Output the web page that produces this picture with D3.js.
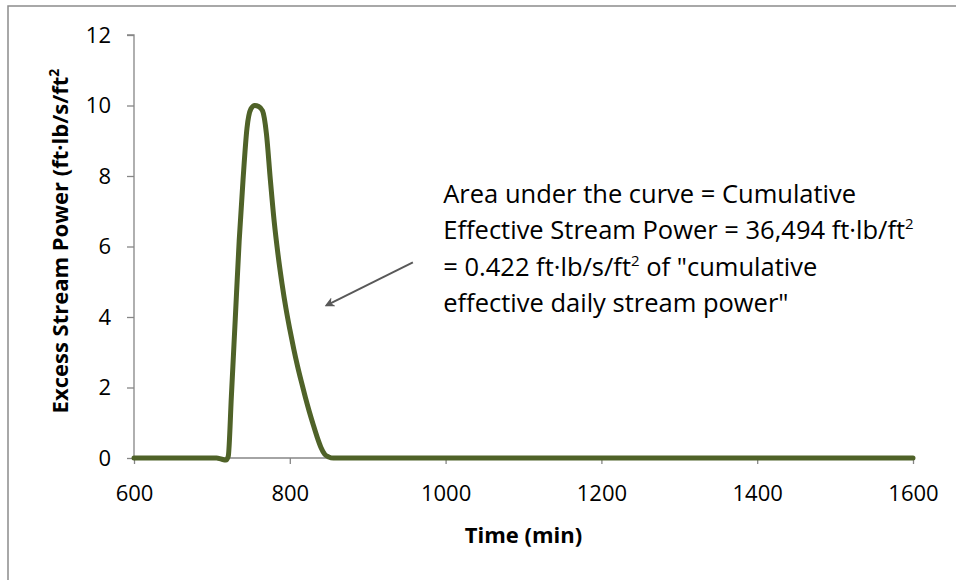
<!DOCTYPE html>
<html>
<head>
<meta charset="utf-8">
<script src="https://cdn.jsdelivr.net/npm/d3@7"></script>
<style>
  body { margin: 0; background: #fff; }
  svg { display: block; font-family: "Open Sans", "Noto Sans", sans-serif; }
</style>
</head>
<body>
<div id="chart"></div>
<script>
var width = 956;
var height = 580;

// data (time in min, excess stream power)
var times  = [600, 700, 706, 712, 718, 721, 725, 730, 735, 740, 745, 750, 755, 760, 765,
              770, 775, 780, 785, 790, 795, 800, 805, 810, 815, 820, 825, 830, 835, 840,
              845, 850, 856, 1600];
var power  = [0, 0, 0, -0.03, -0.06, 0.05, 1.75, 3.95, 6.15, 7.9, 9.35, 9.9, 10.0, 9.97, 9.85,
              9.2, 7.9, 6.7, 5.75, 4.95, 4.25, 3.65, 3.1, 2.6, 2.15, 1.72, 1.32, 0.95, 0.6, 0.3,
              0.1, 0.03, 0, 0];
var xTicks = [600, 800, 1000, 1200, 1400, 1600];
var yTicks = [0, 2, 4, 6, 8, 10, 12];

var annotation = [
  [{t: "Area under the curve = Cumulative"}],
  [{t: "Effective Stream Power = 36,494 ft\u00b7lb/ft"}, {t: "2", sup: true}],
  [{t: "= 0.422 ft\u00b7lb/s/ft"}, {t: "2", sup: true}, {t: " of \"cumulative"}],
  [{t: "effective daily stream power\""}]
];

var margin = {top: 35, right: 43, bottom: 122, left: 134},
    innerWidth = width - margin.left - margin.right,
    innerHeight = height - margin.top - margin.bottom;

var svg = d3.select("#chart")
            .append("svg")
            .attr("width", width)
            .attr("height", height);

// chart frame (runs off the right and bottom edge)
svg.append("rect")
    .attr("x", 8).attr("y", 6)
    .attr("width", width + 20).attr("height", height + 20)
    .attr("fill", "none")
    .attr("stroke", "#8c8c8c")
    .attr("stroke-width", 1.5);

var g = svg.append("g").attr("transform", "translate(" + margin.left + "," + margin.top + ")");

var x = d3.scaleLinear().domain([600, 1600]).range([0, innerWidth]);
var y = d3.scaleLinear().domain([0, 12]).range([innerHeight, 0]);

function styleAxis(a) {
  a.attr("font-family", null).attr("font-size", null);
  a.selectAll("line").attr("stroke", "#868686").attr("stroke-width", 1.3);
  a.select(".domain").attr("stroke", "#868686").attr("stroke-width", 1.3);
  a.selectAll("text").attr("font-size", 22).attr("fill", "#000");
}

g.append("g")
    .call(d3.axisLeft(y).tickValues(yTicks).tickSize(7).tickPadding(16))
    .call(function(a) { a.select(".domain").attr("d", "M-7," + y(12) + "H0V" + y(0)); })
    .call(styleAxis);

g.append("g")
    .attr("transform", "translate(0," + innerHeight + ")")
    .call(d3.axisBottom(x).tickValues(xTicks).tickFormat(d3.format("d")).tickSize(6).tickPadding(21))
    .call(function(a) { a.select(".domain").attr("d", "M0,0H" + innerWidth); })
    .call(styleAxis);

var pts = times.map(function(t, i) { return {t: t, v: power[i]}; });

var line = d3.line()
    .x(function(d) { return x(d.t); })
    .y(function(d) { return y(d.v); })
    .curve(d3.curveMonotoneX);

g.append("path")
    .datum(pts)
    .attr("fill", "none")
    .attr("stroke", "#4f6228")
    .attr("stroke-width", 5)
    .attr("stroke-linejoin", "round")
    .attr("stroke-linecap", "round")
    .attr("d", line);

// axis titles
svg.append("text")
    .attr("x", margin.left + innerWidth / 2)
    .attr("y", 543)
    .attr("text-anchor", "middle")
    .attr("font-size", 22)
    .attr("font-weight", "bold")
    .text("Time (min)");

var yt = svg.append("text")
    .attr("transform", "translate(68," + (margin.top + 206) + ") rotate(-90)")
    .attr("text-anchor", "middle")
    .attr("font-size", 22)
    .attr("font-weight", "bold");
yt.append("tspan").text("Excess Stream Power (ft\u00b7lb/s/ft");
yt.append("tspan").attr("font-size", 14).attr("dy", -9).text("2");

// annotation text
annotation.forEach(function(parts, i) {
  var txt = g.append("text")
      .attr("x", x(997))
      .attr("y", y(7.23) + i * 36.3)
      .attr("font-size", 25.5)
      .attr("fill", "#000");
  var lifted = false;
  parts.forEach(function(p) {
    var ts = txt.append("tspan").text(p.t);
    if (p.sup) { ts.attr("font-size", 15).attr("dy", -10); lifted = true; }
    else if (lifted) { ts.attr("dy", 10); lifted = false; }
  });
});

// arrow pointing at the curve
svg.append("defs").append("marker")
    .attr("id", "arrow")
    .attr("viewBox", "0 0 10 10")
    .attr("refX", 8).attr("refY", 5)
    .attr("markerWidth", 5).attr("markerHeight", 5)
    .attr("orient", "auto")
  .append("path")
    .attr("d", "M0,0L10,5L0,10L3,5Z")
    .attr("fill", "#595959");

g.append("line")
    .attr("x1", x(958)).attr("y1", y(5.55))
    .attr("x2", x(847)).attr("y2", y(4.33))
    .attr("stroke", "#595959")
    .attr("stroke-width", 2)
    .attr("marker-end", "url(#arrow)");
</script>
</body>
</html>
